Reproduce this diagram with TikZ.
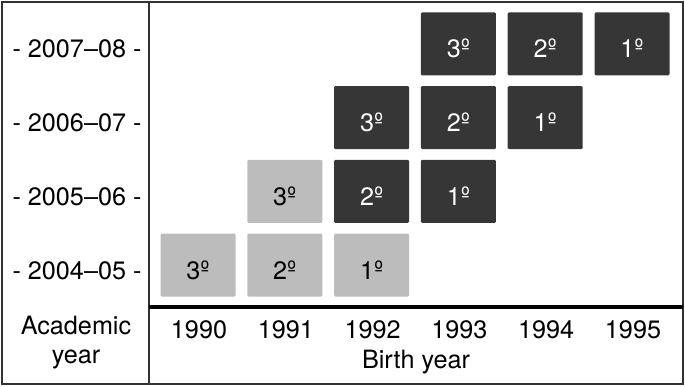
\documentclass[tikz,border=0pt]{standalone}
\usepackage{fontspec}
\setmainfont{TeX Gyre Heros}
\definecolor{darkcell}{RGB}{54,54,54}
\definecolor{lightcell}{RGB}{188,188,188}
\definecolor{framegray}{RGB}{50,50,50}

\begin{document}
\begin{tikzpicture}[
    x=0.5pt, y=-0.5pt,
    txt/.style={font=\fontsize{12.6}{14.5}\selectfont},
    low/.style={txt, text height=14pt, text depth=0pt},
    cell/.style={low, minimum width=37.5pt, minimum height=31.5pt, inner sep=0pt, rounded corners=0.6pt},
    darkbox/.style={cell, fill=darkcell, text=white},
    lightbox/.style={cell, fill=lightcell, text=black}
]
    \useasboundingbox (0,0) rectangle (685,386);

    % Frame and dividers
    \draw[framegray, line width=1pt] (2,2) rectangle (683,384);
    \draw[framegray, line width=0.8pt] (149,2) -- (149,384);
    \draw[black, line width=1.6pt] (149,307) -- (683,307);

    % Academic years (rows)
    \foreach \r/\lbl in {0/2004--05, 1/2005--06, 2/2006--07, 3/2007--08}
        \node[low, inner sep=0pt] (row\r) at (77,265-73.7*\r) {- \lbl{} -};

    % Birth years (columns)
    \foreach \c/\yr in {0/1990, 1/1991, 2/1992, 3/1993, 4/1994, 5/1995}
        \node[txt] (col\c) at (199+86.8*\c,330) {\yr};

    % Cells: row / column / grade / style
    \foreach \r/\c/\g/\s in {0/0/3/lightbox, 0/1/2/lightbox, 0/2/1/lightbox,
                              1/1/3/lightbox, 1/2/2/darkbox,  1/3/1/darkbox,
                              2/2/3/darkbox,  2/3/2/darkbox,  2/4/1/darkbox,
                              3/3/3/darkbox,  3/4/2/darkbox,  3/5/1/darkbox}
        \node[\s] (cell\r\c) at (198+86.8*\c,265-73.7*\r) {\g º};

    % Axis titles
    \node[txt, align=center] (acad) at (76,343) {Academic\\year};
    \node[txt] (birth) at (416,362) {Birth year};
\end{tikzpicture}
\end{document}
